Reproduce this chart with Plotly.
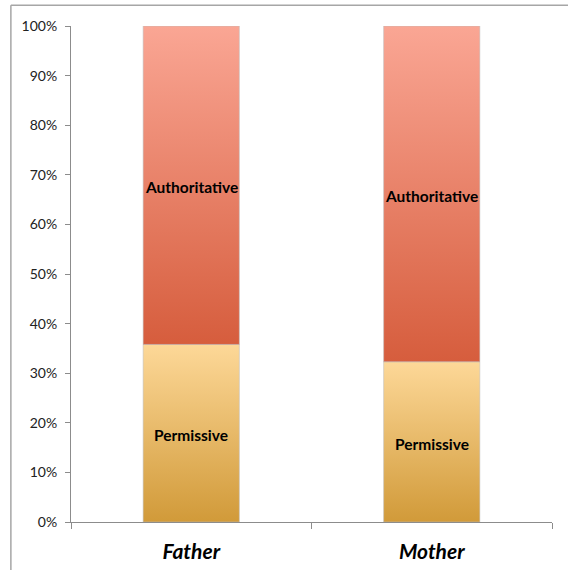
import plotly.graph_objects as go

# Share of each parenting style, by parent
parents = ["Father", "Mother"]
styles = ["Permissive", "Authoritative"]
permissive = [35.8, 32.3]
authoritative = [64.2, 67.7]
y_ticks = [0, 10, 20, 30, 40, 50, 60, 70, 80, 90, 100]
y_tick_labels = [f"{v}%" for v in y_ticks]

series = {"Permissive": permissive, "Authoritative": authoritative}
gradients = {
    "Permissive": ("#D19A39", "#FDD898"),
    "Authoritative": ("#D65D3D", "#FAA694"),
}
bar_width = 0.4

fig = go.Figure()
bases = [0.0] * len(parents)
for style in styles:
    vals = series[style]
    bottom_c, top_c = gradients[style]
    for i, (p, v) in enumerate(zip(parents, vals)):
        y0 = bases[i] / 100
        y1 = (bases[i] + v) / 100
        x0, x1 = i - bar_width / 2, i + bar_width / 2
        fig.add_trace(go.Scatter(
            x=[x0, x1, x1, x0, x0],
            y=[y0, y0, y1, y1, y0],
            mode="lines",
            fill="toself",
            line=dict(color="rgba(190,190,190,0.55)", width=1),
            fillgradient=dict(
                type="vertical",
                start=y0, stop=y1,
                colorscale=[[0, bottom_c], [1, top_c]],
            ),
            hoverinfo="skip",
            showlegend=False,
        ))
        # segment label, centred in its segment
        fig.add_annotation(
            x=i, y=(y0 + y1) / 2, xref="x", yref="y",
            text=f"<b>{style}</b>", showarrow=False, yshift=-2,
            font=dict(family="Lato, 'Open Sans', sans-serif", size=15.5,
                      color="#000000"),
        )
    bases = [b + v for b, v in zip(bases, vals)]

# chart frame (top and left edge of the surrounding box)
fig.add_shape(type="line", xref="paper", yref="paper",
              x0=-0.125, x1=1.04, y0=1.042, y1=1.042,
              line=dict(color="#A6A6A6", width=1.5))
fig.add_shape(type="line", xref="paper", yref="paper",
              x0=-0.125, x1=-0.125, y0=1.042, y1=-0.12,
              line=dict(color="#A6A6A6", width=1.5))

fig.update_layout(
    width=568, height=570,
    margin=dict(l=71, r=16, t=26, b=48, autoexpand=False),
    plot_bgcolor="white", paper_bgcolor="white",
    font=dict(family="Lato, 'Open Sans', sans-serif", color="#222222"),
    xaxis=dict(
        range=[-0.5, 1.5],
        tickvals=[0, 1], ticktext=parents,
        ticks="",
        tickfont=dict(size=21, color="#000000", weight="bold", style="italic"),
        ticklabelstandoff=11,
        automargin=False,
        showline=True, linecolor="#8C8C8C", linewidth=1,
        showgrid=False, zeroline=False,
        minor=dict(tickvals=[-0.5, 0.5, 1.5], ticks="outside", ticklen=6,
                   tickcolor="#8C8C8C", showgrid=False),
    ),
    yaxis=dict(
        range=[0, 1],
        tickvals=[v / 100 for v in y_ticks], ticktext=y_tick_labels,
        ticks="outside", ticklen=5, tickcolor="#8C8C8C",
        tickfont=dict(size=14, color="#222222"),
        ticklabelstandoff=5,
        automargin=False,
        showline=True, linecolor="#8C8C8C", linewidth=1,
        showgrid=False, zeroline=False,
    ),
)

fig.write_html("out.html")
